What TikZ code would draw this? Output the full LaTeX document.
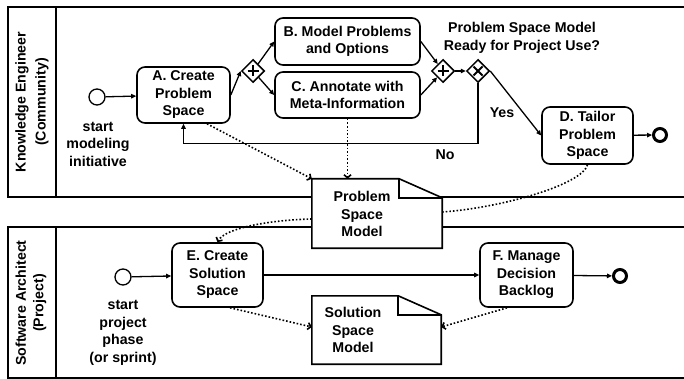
\documentclass[tikz,border=0pt]{standalone}
\usepackage{fontspec}
\setmainfont{Liberation Sans}
\usetikzlibrary{shapes.geometric,arrows.meta}
\begin{document}
\begin{tikzpicture}[x=1pt,y=-1pt,
  every node/.style={font=\bfseries\fontsize{14.2}{17.5}\selectfont, inner sep=0pt, align=center},
  lane/.style={line width=2.3pt},
  task/.style={draw, rounded corners=8pt, line width=1.6pt, fill=white},
  gw/.style={draw, diamond, aspect=1, line width=1.5pt, minimum width=23pt, minimum height=23pt, fill=white},
  gwmark/.style={line width=2pt},
  startev/.style={draw, circle, line width=1.3pt, minimum size=16pt},
  endev/.style={draw, circle, line width=3pt, minimum size=13pt},
  docbox/.style={minimum width=#1, minimum height=68pt},
  docline/.style={line width=1.6pt},
  flow/.style={line width=1.3pt, -{Triangle[length=5pt,width=4.5pt]}},
  assoc/.style={line width=1.6pt, dotted, -{Straight Barb[length=3pt,width=7pt]}},
  assocn/.style={line width=1.6pt, dotted}
]
\useasboundingbox (0,0) rectangle (684,379);

% lanes
\draw[lane] (8,7) rectangle (700,197);
\draw[lane] (56,7) -- (56,197);
\draw[lane] (8,227) rectangle (700,378);
\draw[lane] (56,227) -- (56,378);
\node[rotate=90] (lane1) at (32,102) {Knowledge Engineer\\[2.5pt](Community)};
\node[rotate=90] (lane2) at (31,303) {Software Architect\\(Project)};

% top lane
\node[startev] (s1) at (97,97) {};
\node (s1l) at (98,144) {start\\modeling\\initiative};
\node[task, minimum width=93pt, minimum height=56pt] (A) at (183.5,95) {A. Create\\Problem\\Space};
\node[gw] (g1) at (253,71) {};
\draw[gwmark] (g1) ++(-5.5,0) -- ++(11,0);
\draw[gwmark] (g1) ++(0,-5.5) -- ++(0,11);
\node[task, minimum width=145pt, minimum height=47pt] (B) at (347.5,41.5) {B. Model Problems\\and Options};
\node[task, minimum width=145pt, minimum height=46pt] (C) at (347.5,95) {C. Annotate with\\Meta-Information};
\node[gw] (g2) at (443,71) {};
\draw[gwmark] (g2) ++(-5.5,0) -- ++(11,0);
\draw[gwmark] (g2) ++(0,-5.5) -- ++(0,11);
\node[gw] (g3) at (478,71) {};
\draw[gwmark] (g3) ++(-4.5,-4.5) -- ++(9,9);
\draw[gwmark] (g3) ++(-4.5,4.5) -- ++(9,-9);
\node (q) at (522,38) {Problem Space Model\\Ready for Project Use?};
\node[task, minimum width=91pt, minimum height=57pt] (D) at (587.5,135.5) {D. Tailor\\Problem\\Space};
\node[endev] (e1) at (660,135) {};
\node (yes) at (502,113) {Yes};
\node (no) at (445,155) {No};

\draw[flow] (s1) -- (A);
\draw[flow] (A.east) -- (g1.west);
\draw[flow] (g1) -- (B.west);
\draw[flow] (g1) -- (C.west);
\draw[flow] (B.east) -- (g2);
\draw[flow] (C.east) -- (g2);
\draw[flow] (g2) -- (g3);
\draw[flow] (g3.east) -- (D.west);
\draw[flow] (g3.south) |- ([yshift=-20pt]A.south) -- (A.south);
\draw[flow] (D) -- (e1);

% documents
\node[docbox=130pt, minimum height=69pt] (psm) at (377,213.5) {};
\filldraw[docline, fill=white] (psm.south west) -- (psm.north west) -- ([xshift=-43pt]psm.north east)
  -- ([yshift=-19pt]psm.north east) -- (psm.south east) -- cycle;
\draw[docline] ([xshift=-43pt]psm.north east) -- ([xshift=-43pt,yshift=-19pt]psm.north east) -- ([yshift=-19pt]psm.north east);
\node (psmt) at (362,214) {Problem\\Space\\Model};

\node[docbox=129pt] (ssm) at (376.5,330) {};
\filldraw[docline, fill=white] (ssm.south west) -- (ssm.north west) -- ([xshift=-43pt]ssm.north east)
  -- ([yshift=-19pt]ssm.north east) -- (ssm.south east) -- cycle;
\draw[docline] ([xshift=-43pt]ssm.north east) -- ([xshift=-43pt,yshift=-19pt]ssm.north east) -- ([yshift=-19pt]ssm.north east);
\node (ssmt) at (353,330) {Solution\\Space\\Model};

% bottom lane
\node[startev] (s2) at (123,277) {};
\node (s2l) at (123,333) {start\\project\\phase\\(or sprint)};
\node[task, minimum width=91pt, minimum height=64pt] (E) at (217.5,275) {E. Create\\Solution\\Space};
\node[task, minimum width=93pt, minimum height=64pt] (F) at (526.5,275) {F. Manage\\Decision\\Backlog};
\node[endev] (e2) at (620,276) {};

\draw[flow] (s2) -- (E);
\draw[flow] (E) -- (F);
\draw[flow] (F) -- (e2);

% associations
\draw[assoc] ([xshift=23.5pt]A.south) -- (psm.north west);
\draw[assoc] (C.south) -- (C.south |- psm.north);
\draw[assocn] (D.south) .. controls (582,185) and (500,208) .. ([yshift=1.5pt]psm.east);
\draw[assoc] ([yshift=-5.5pt]psm.west) .. controls (270,220) and (225,228) .. (E.north);
\draw[assoc] ([xshift=12.5pt]E.south) -- ([yshift=3pt]ssm.west);
\draw[assoc] ([xshift=-19.5pt]F.south) -- ([yshift=3pt]ssm.east);
\end{tikzpicture}
\end{document}
